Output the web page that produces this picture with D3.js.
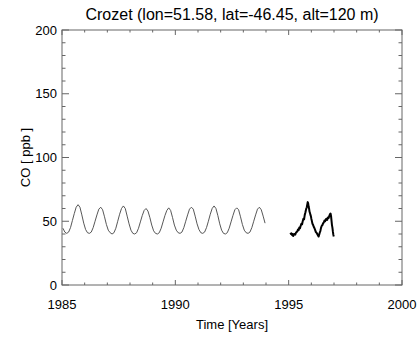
<!DOCTYPE html>
<html><head><meta charset="utf-8">
<script src="https://cdn.jsdelivr.net/npm/d3@7"></script>
<style>body{margin:0;background:#fff}svg{display:block}text{font-family:"Liberation Sans",Arial,Helvetica,sans-serif;fill:#000}</style>
</head><body>
<script>
// Data
const title = "Crozet (lon=51.58, lat=-46.45, alt=120 m)";
const xLabel = "Time [Years]";
const yLabel = "CO [ ppb ]";
const xTicks = [1985, 1990, 1995, 2000];
const yTicks = [0, 50, 100, 150, 200];
// monthly series 1985-1993 (ppb)
const cycleTimes = [];
const cycleValues = [
  44.5,41.5,40.5,41.5,45,50.5,56,61,63,61,55,48.5,
  43.5,41,40.5,41.5,45,50,55,59.5,61,59,53.5,47.5,
  43,41,40,41,44.5,50,55.5,60,62,60,54,48,
  43,40.5,40,41,44.5,49.5,54.5,58.5,60,58,53,47,
  42.5,40.5,40,41,44.5,49.5,54.5,58.5,60.5,58.5,53,47,
  43,41,40.5,41.5,45,50,55,59.5,61,59.5,54,48,
  43.5,41,40.5,41.5,45,50,55.5,60,62,60,54.5,48,
  43,40.5,40,41,44.5,49.5,54.5,59,60.5,59,53.5,47.5,
  43,41,40.5,41.5,45,50,55,59.5,61,59,54,48.5
];
for (let y = 1985; y <= 1993; y++) for (let m = 0; m < 12; m++) cycleTimes.push(y + (m + 0.5) / 12);
// observations 1995-1996
const obsTimes = [1995.08,1995.1,1995.12,1995.14,1995.16,1995.18,1995.2,1995.23,1995.26,1995.29,1995.32,1995.35,1995.38,1995.41,1995.44,1995.47,1995.5,1995.53,1995.56,1995.59,1995.62,1995.65,1995.68,1995.71,1995.74,1995.77,1995.8,1995.82,1995.84,1995.86,1995.88,1995.9,1995.92,1995.94,1995.96,1995.98,1996.0,1996.02,1996.05,1996.08,1996.11,1996.14,1996.17,1996.2,1996.23,1996.26,1996.29,1996.32,1996.34,1996.37,1996.4,1996.43,1996.46,1996.49,1996.52,1996.55,1996.58,1996.61,1996.64,1996.67,1996.7,1996.73,1996.76,1996.79,1996.82,1996.85,1996.87,1996.89,1996.91,1996.93,1996.95,1996.97,1996.99];
const obsValues = [41,40,40.5,39.5,39,40,38.5,39.5,40,39.5,41,41.5,42,43.5,43,45,44.5,46.5,48,47.5,50,52,51.5,55,57,59.5,61,63,65,64,61.5,60,57.5,56.5,55,54,52,50.5,48,47,45.5,44.5,43,41.5,41,40,39,38,39,41,42.5,45,46.5,47,48.5,49,50.5,50,51.5,52,51,53,52.5,54,55.5,56,54,50.5,47,45,42,39.5,38];

const W = 420, H = 340;
const m = {l: 62, r: 18, t: 30, b: 55};
const svg = d3.select("body").append("svg").attr("width", W).attr("height", H);
const x = d3.scaleLinear().domain([1985, 2000]).range([m.l, W - m.r]);
const yS = d3.scaleLinear().domain([0, 200]).range([H - m.b, m.t]);

const axisColor = "#666";
svg.append("rect").attr("x", m.l).attr("y", m.t).attr("width", W - m.r - m.l).attr("height", H - m.b - m.t)
  .attr("fill", "none").attr("stroke", axisColor).attr("stroke-width", 1);

const xMinor = d3.range(1985, 2001, 1);
const yMinor = d3.range(0, 201, 10);
const g = svg.append("g").attr("stroke", axisColor).attr("stroke-width", 1);
xMinor.forEach(v => {
  const len = xTicks.includes(v) ? 5 : 2.5;
  g.append("line").attr("x1", x(v)).attr("x2", x(v)).attr("y1", yS(0)).attr("y2", yS(0) - len);
  g.append("line").attr("x1", x(v)).attr("x2", x(v)).attr("y1", yS(200)).attr("y2", yS(200) + len);
});
yMinor.forEach(v => {
  const len = yTicks.includes(v) ? 7 : 3.5;
  g.append("line").attr("y1", yS(v)).attr("y2", yS(v)).attr("x1", x(1985)).attr("x2", x(1985) + len);
  g.append("line").attr("y1", yS(v)).attr("y2", yS(v)).attr("x1", x(2000)).attr("x2", x(2000) - len);
});

svg.selectAll(".xt").data(xTicks).enter().append("text").attr("x", d => x(d)).attr("y", 309)
  .attr("text-anchor", "middle").attr("font-size", 13).text(d => d);
svg.selectAll(".yt").data(yTicks).enter().append("text").attr("x", 57).attr("y", d => yS(d) + 4.5)
  .attr("text-anchor", "end").attr("font-size", 13).text(d => d);

svg.append("text").attr("x", (m.l + W - m.r) / 2).attr("y", 329).attr("text-anchor", "middle").attr("font-size", 13).text(xLabel);
svg.append("text").attr("transform", `translate(30,${(m.t + H - m.b) / 2}) rotate(-90)`).attr("text-anchor", "middle").attr("font-size", 13).text(yLabel);
svg.append("text").attr("x", (m.l + W - m.r) / 2).attr("y", 20).attr("text-anchor", "middle").attr("font-size", 16).text(title);

const line = d3.line().x(d => x(d[0])).y(d => yS(d[1]));
svg.append("path").datum(cycleTimes.map((t, i) => [t, cycleValues[i]])).attr("d", line)
  .attr("fill", "none").attr("stroke", "#444").attr("stroke-width", 0.9);
svg.append("path").datum(obsTimes.map((t, i) => [t, obsValues[i]])).attr("d", line)
  .attr("fill", "none").attr("stroke", "#000").attr("stroke-width", 2).attr("stroke-linejoin", "round");
</script>
</body></html>
